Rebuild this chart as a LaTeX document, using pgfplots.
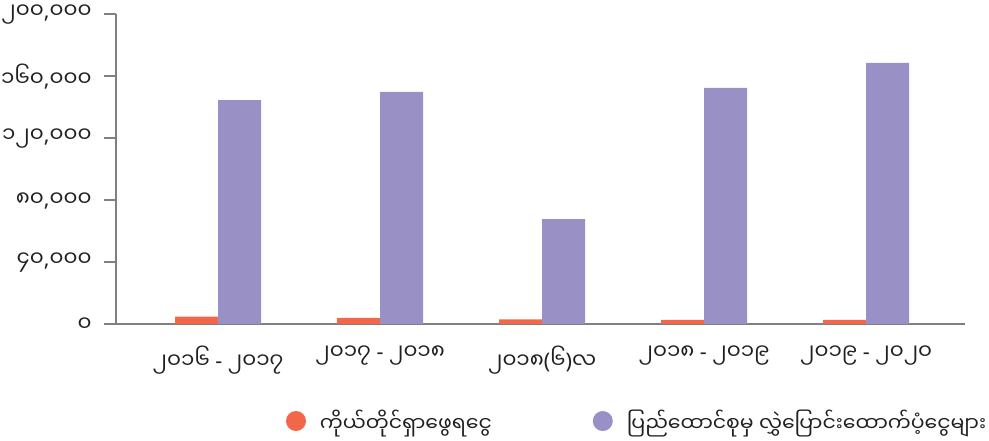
\documentclass[border=0pt]{standalone}
\usepackage{fontspec}
\setmainfont{Noto Sans}
\usepackage{pgfplots}
\pgfplotsset{compat=1.18}
\newfontfamily\mmfont[Script=Myanmar]{Noto Sans Myanmar UI}
\newcommand\mm[1]{{\mmfont #1}}
\definecolor{orng}{HTML}{F2674A}
\definecolor{purp}{HTML}{9991C5}
\definecolor{axg}{HTML}{808080}
\definecolor{txt}{HTML}{231F20}
\begin{document}
\begin{tikzpicture}
\useasboundingbox (0bp,0bp) rectangle (989bp,441bp);
\begin{axis}[
  at={(116bp,117bp)}, anchor=south west,
  scale only axis, width=849bp, height=310bp,
  ymin=0, ymax=200000, xmin=-0.63, xmax=4.61,
  scaled y ticks=false,
  axis x line*=bottom, axis y line*=left,
  axis line style={axg, line width=1.3bp},
  ybar=0pt, bar width=43bp,
  xtick={0,1,2,3,4},
  xticklabels={
    {\mm{၂၀၁၆} - \mm{၂၀၁၇}},
    {\mm{၂၀၁၇} - \mm{၂၀၁၈}},
    {\mm{၂၀၁၈}(\mm{၆})\mm{လ}},
    {\mm{၂၀၁၈} - \mm{၂၀၁၉}},
    {\mm{၂၀၁၉} - \mm{၂၀၂၀}}},
  x tick style={draw=none},
  ytick={0,40000,80000,120000,160000,200000},
  yticklabels={
    {\mm{၀}},
    {\mm{၄၀},\mm{၀၀၀}},
    {\mm{၈၀},\mm{၀၀၀}},
    {\mm{၁၂၀},\mm{၀၀၀}},
    {\mm{၁၆၀},\mm{၀၀၀}},
    {\mm{၂၀၀},\mm{၀၀၀}}},
  tick align=outside, major tick length=12bp,
  y tick style={axg, line width=1.3bp},
  tick label style={font=\fontsize{21.5}{24}\selectfont, text=txt},
  yticklabel style={xshift=-9bp, yshift=-1bp},
  xticklabel style={yshift=-6bp},
  legend style={at={(axis description cs:0.2,-0.313)}, anchor=west,
    draw=none, inner sep=0pt, legend columns=2,
    font=\fontsize{20.5}{23}\selectfont, text=txt,
    /tikz/every odd column/.append style={column sep=12bp},
    /tikz/every even column/.append style={column sep=99bp}},
]
\addplot[fill=orng, draw=none,
  legend image code/.code={\fill[orng] (10bp,0bp) circle (10bp);}]
  coordinates {(0,4700) (1,3900) (2,3000) (3,2600) (4,2600)};
\addplot[fill=purp, draw=none,
  legend image code/.code={\fill[purp] (10bp,0bp) circle (10bp);}]
  coordinates {(0,144500) (1,149700) (2,67700) (3,152300) (4,168400)};
\legend{{\mm{ကိုယ်တိုင်ရှာဖွေရငွေ}}, {\mm{ပြည်ထောင်စုမှ လွှဲပြောင်းထောက်ပံ့ငွေများ}}}
\end{axis}
\end{tikzpicture}
\end{document}
